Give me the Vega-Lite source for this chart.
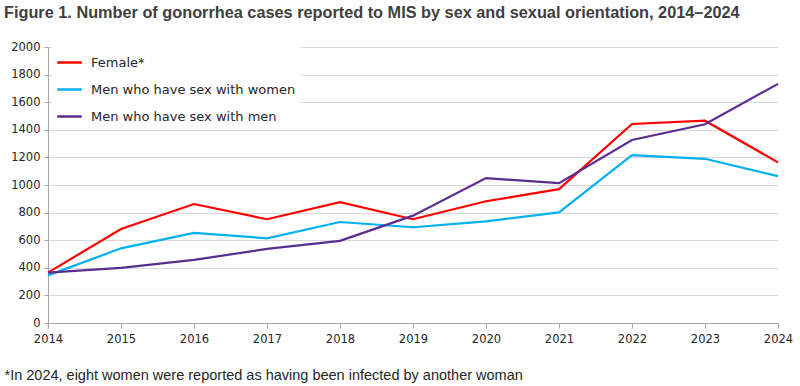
{
  "$schema": "https://vega.github.io/schema/vega-lite/v6.json",
  "width": 730,
  "height": 276,
  "autosize": {"type": "none"},
  "padding": {"left": 48, "top": 47, "right": 22, "bottom": 63},
  "background": "white",
  "title": {
    "text": "Figure 1. Number of gonorrhea cases reported to MIS by sex and sexual orientation, 2014–2024",
    "anchor": "start",
    "frame": "group",
    "dx": -44,
    "offset": 20,
    "font": "Liberation Sans",
    "fontSize": 16.3,
    "fontWeight": "bold",
    "color": "#404040"
  },
  "data": {
    "values": [
      {"year": 2014, "group": "Female*", "cases": 365},
      {"year": 2015, "group": "Female*", "cases": 681},
      {"year": 2016, "group": "Female*", "cases": 862},
      {"year": 2017, "group": "Female*", "cases": 752},
      {"year": 2018, "group": "Female*", "cases": 876},
      {"year": 2019, "group": "Female*", "cases": 752},
      {"year": 2020, "group": "Female*", "cases": 882},
      {"year": 2021, "group": "Female*", "cases": 970},
      {"year": 2022, "group": "Female*", "cases": 1442},
      {"year": 2023, "group": "Female*", "cases": 1466},
      {"year": 2024, "group": "Female*", "cases": 1164},
      {"year": 2014, "group": "Men who have sex with women", "cases": 345},
      {"year": 2015, "group": "Men who have sex with women", "cases": 541},
      {"year": 2016, "group": "Men who have sex with women", "cases": 653},
      {"year": 2017, "group": "Men who have sex with women", "cases": 614},
      {"year": 2018, "group": "Men who have sex with women", "cases": 732},
      {"year": 2019, "group": "Men who have sex with women", "cases": 694},
      {"year": 2020, "group": "Men who have sex with women", "cases": 737},
      {"year": 2021, "group": "Men who have sex with women", "cases": 802},
      {"year": 2022, "group": "Men who have sex with women", "cases": 1217},
      {"year": 2023, "group": "Men who have sex with women", "cases": 1190},
      {"year": 2024, "group": "Men who have sex with women", "cases": 1064},
      {"year": 2014, "group": "Men who have sex with men", "cases": 365},
      {"year": 2015, "group": "Men who have sex with men", "cases": 399},
      {"year": 2016, "group": "Men who have sex with men", "cases": 457},
      {"year": 2017, "group": "Men who have sex with men", "cases": 537},
      {"year": 2018, "group": "Men who have sex with men", "cases": 595},
      {"year": 2019, "group": "Men who have sex with men", "cases": 778},
      {"year": 2020, "group": "Men who have sex with men", "cases": 1050},
      {"year": 2021, "group": "Men who have sex with men", "cases": 1013},
      {"year": 2022, "group": "Men who have sex with men", "cases": 1326},
      {"year": 2023, "group": "Men who have sex with men", "cases": 1440},
      {"year": 2024, "group": "Men who have sex with men", "cases": 1733}
    ]
  },
  "mark": {"type": "line", "strokeWidth": 2.2},
  "encoding": {
    "x": {
      "field": "year",
      "type": "quantitative",
      "scale": {"domain": [2014, 2024], "nice": false, "zero": false},
      "axis": {
        "values": [2014, 2015, 2016, 2017, 2018, 2019, 2020, 2021, 2022, 2023, 2024],
        "format": "d",
        "grid": false,
        "title": "*In 2024, eight women were reported as having been infected by another woman",
        "titleAnchor": "start",
        "titleAlign": "left",
        "titleBaseline": "alphabetic",
        "titleX": -44,
        "titleY": 56,
        "titleFont": "Liberation Sans",
        "titleFontSize": 14.5,
        "titleFontWeight": "normal",
        "titleColor": "#262626",
        "labelFont": "DejaVu Sans",
        "labelFontSize": 11.5,
        "labelColor": "#262626",
        "labelPadding": 5,
        "domainColor": "#a6a6a6",
        "tickColor": "#a6a6a6",
        "tickSize": 5,
        "labelFlush": false
      }
    },
    "y": {
      "field": "cases",
      "type": "quantitative",
      "scale": {"domain": [0, 2000], "nice": false},
      "axis": {
        "values": [0, 200, 400, 600, 800, 1000, 1200, 1400, 1600, 1800, 2000],
        "format": "d",
        "title": null,
        "labelFont": "DejaVu Sans",
        "labelFontSize": 11.5,
        "labelColor": "#262626",
        "labelPadding": 4,
        "domainColor": "#a6a6a6",
        "tickColor": "#a6a6a6",
        "tickSize": 4,
        "gridColor": "#d9d9d9",
        "gridWidth": 1
      }
    },
    "color": {
      "field": "group",
      "type": "nominal",
      "sort": ["Female*", "Men who have sex with women", "Men who have sex with men"],
      "scale": {
        "domain": ["Female*", "Men who have sex with women", "Men who have sex with men"],
        "range": ["#ff0000", "#00b0f0", "#5c2d91"]
      },
      "legend": {
        "title": null,
        "orient": "none",
        "legendX": 4,
        "legendY": -2,
        "fillColor": "white",
        "padding": 4,
        "symbolType": "stroke",
        "symbolSize": 600,
        "symbolStrokeWidth": 2.5,
        "labelFont": "DejaVu Sans",
        "labelFontSize": 13,
        "labelColor": "#262626",
        "labelOffset": 8,
        "rowPadding": 6,
        "labelLimit": 400
      }
    }
  },
  "config": {
    "view": {"stroke": null},
    "axis": {"domainWidth": 1}
  }
}
